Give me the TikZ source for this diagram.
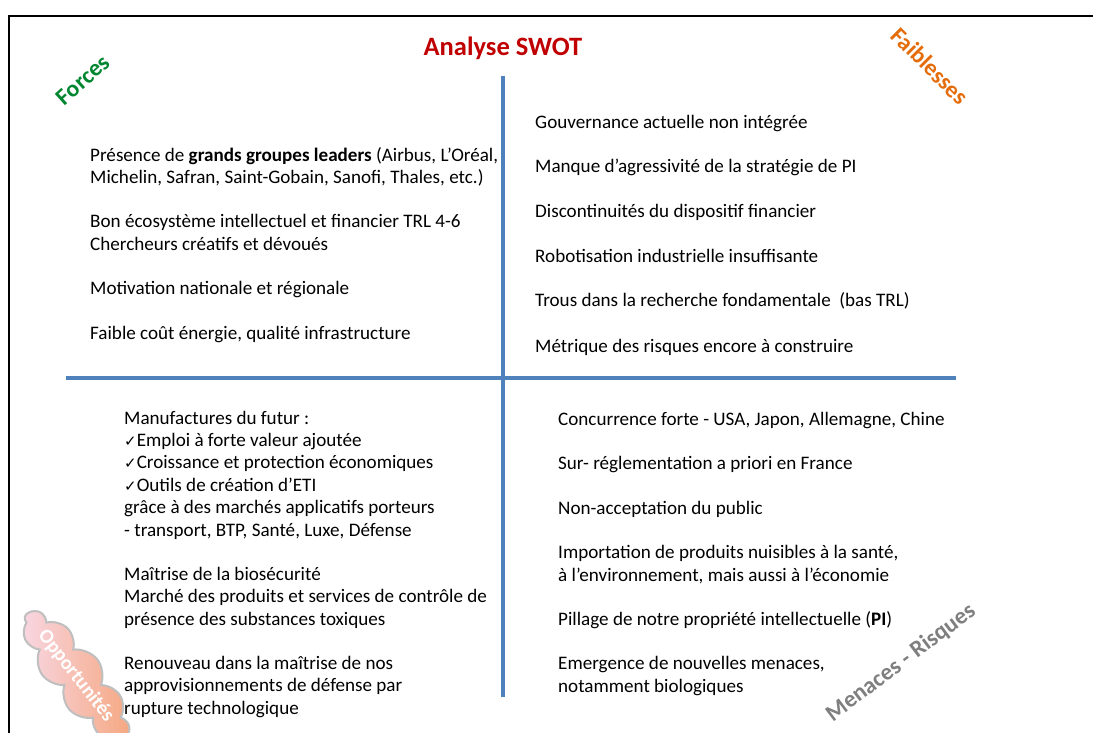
\documentclass[tikz,border=0pt]{standalone}
\usepackage{fontspec}
\setmainfont{Carlito}
\newfontfamily\symfont{DejaVu Sans}
\usetikzlibrary{shapes.symbols}

\newcommand{\chk}{{\symfont\fontsize{15}{15}\selectfont ✓}}

\begin{document}
\begin{tikzpicture}
  \tikzset{
    txt/.style={
      anchor=base west,
      inner sep=0pt,
      align=left,
      font=\fontsize{19.1}{22.4}\selectfont
    },
    corner/.style={
      inner sep=0pt,
      font=\bfseries\fontsize{23.5}{23.5}\selectfont
    },
    axis/.style={
      line width=3.5pt,
      draw=swotblue
    }
  }
  \definecolor{swotblue}{HTML}{4F81BD}
  \definecolor{swotred}{HTML}{C00000}
  \definecolor{swotgreen}{HTML}{00862F}
  \definecolor{swotorange}{HTML}{E46C0A}
  \definecolor{swotgray}{HTML}{7F7F7F}
  \definecolor{cloudpink}{HTML}{F8D6E2}
  \definecolor{cloudmid}{HTML}{F9BF85}
  \definecolor{cloudorange}{HTML}{F5A882}

  \useasboundingbox (0pt, 0pt) rectangle (1093pt, -733pt);

  % frame
  \draw[line width=2pt] (9pt, -733pt) -- (9pt, -16pt) -- (1093pt, -16pt);

  % axes
  \draw[axis] (503pt, -76pt) -- (503pt, -697pt);
  \draw[axis] (66pt, -378pt) -- (956pt, -378pt);

  % title and corner labels
  \node[corner, text=swotred, font=\bfseries\fontsize{26.5}{26.5}\selectfont] (title) at (503pt, -48pt) {Analyse SWOT};
  \node[corner, text=swotgreen, rotate=42] (forces) at (83pt, -80pt) {Forces};
  \node[corner, text=swotorange, rotate=-45] (faiblesses) at (930pt, -66pt) {Faiblesses};
  \node[corner, text=swotgray, rotate=37] (menaces) at (901pt, -663pt) {Menaces - Risques};

  % opportunities cloud
  \node[cloud, cloud puffs=11, cloud puff arc=120, aspect=2.8,
        minimum width=158pt, minimum height=54pt, rotate=-52,
        draw=gray!50, line width=2pt,
        left color=cloudpink, middle color=cloudmid, right color=cloudorange]
        (cloudopp) at (76pt, -676pt) {};
  \node[corner, text=white, rotate=-52, font=\bfseries\fontsize{20}{20}\selectfont] (opportunites) at (cloudopp) {Opportunités};

  % forces
  \node[txt] (f1) at (90pt, -184pt) {Présence de \textbf{grands groupes leaders} (Airbus, L’Oréal,\\Michelin, Safran, Saint-Gobain, Sanofi, Thales, etc.)};
  \node[txt] (f2) at (90pt, -250pt) {Bon écosystème intellectuel et financier TRL 4-6\\Chercheurs créatifs et dévoués};
  \node[txt] (f3) at (90pt, -294pt) {Motivation nationale et régionale};
  \node[txt] (f4) at (90pt, -339pt) {Faible coût énergie, qualité infrastructure};

  % faiblesses
  \node[txt] (w1) at (535pt, -129pt) {Gouvernance actuelle non intégrée};
  \node[txt] (w2) at (535pt, -173pt) {Manque d’agressivité de la stratégie de PI};
  \node[txt] (w3) at (535pt, -218pt) {Discontinuités du dispositif financier};
  \node[txt] (w4) at (535pt, -262pt) {Robotisation industrielle insuffisante};
  \node[txt] (w5) at (535pt, -306pt) {Trous dans la recherche fondamentale~~(bas TRL)};
  \node[txt] (w6) at (535pt, -352pt) {Métrique des risques encore à construire};

  % opportunites
  \node[txt] (o1) at (124pt, -536pt) {Manufactures du futur :\\\chk Emploi à forte valeur ajoutée\\\chk Croissance et protection économiques\\\chk Outils de création d’ETI\\grâce à des marchés applicatifs porteurs\\- transport, BTP, Santé, Luxe, Défense};
  \node[txt] (o2) at (124pt, -625pt) {Maîtrise de la biosécurité\\Marché des produits et services de contrôle de\\présence des substances toxiques};
  \node[txt] (o3) at (124pt, -714pt) {Renouveau dans la maîtrise de nos\\approvisionnements de défense par\\rupture technologique};

  % menaces
  \node[txt] (m1) at (558pt, -425pt) {Concurrence forte - USA, Japon, Allemagne, Chine};
  \node[txt] (m2) at (558pt, -469pt) {Sur- réglementation a priori en France};
  \node[txt] (m3) at (558pt, -514pt) {Non-acceptation du public};
  \node[txt] (m4) at (558pt, -581pt) {Importation de produits nuisibles à la santé,\\à l’environnement, mais aussi à l’économie};
  \node[txt] (m5) at (558pt, -625pt) {Pillage de notre propriété intellectuelle (\textbf{PI})};
  \node[txt] (m6) at (558pt, -692pt) {Emergence de nouvelles menaces,\\notamment biologiques};
\end{tikzpicture}
\end{document}
